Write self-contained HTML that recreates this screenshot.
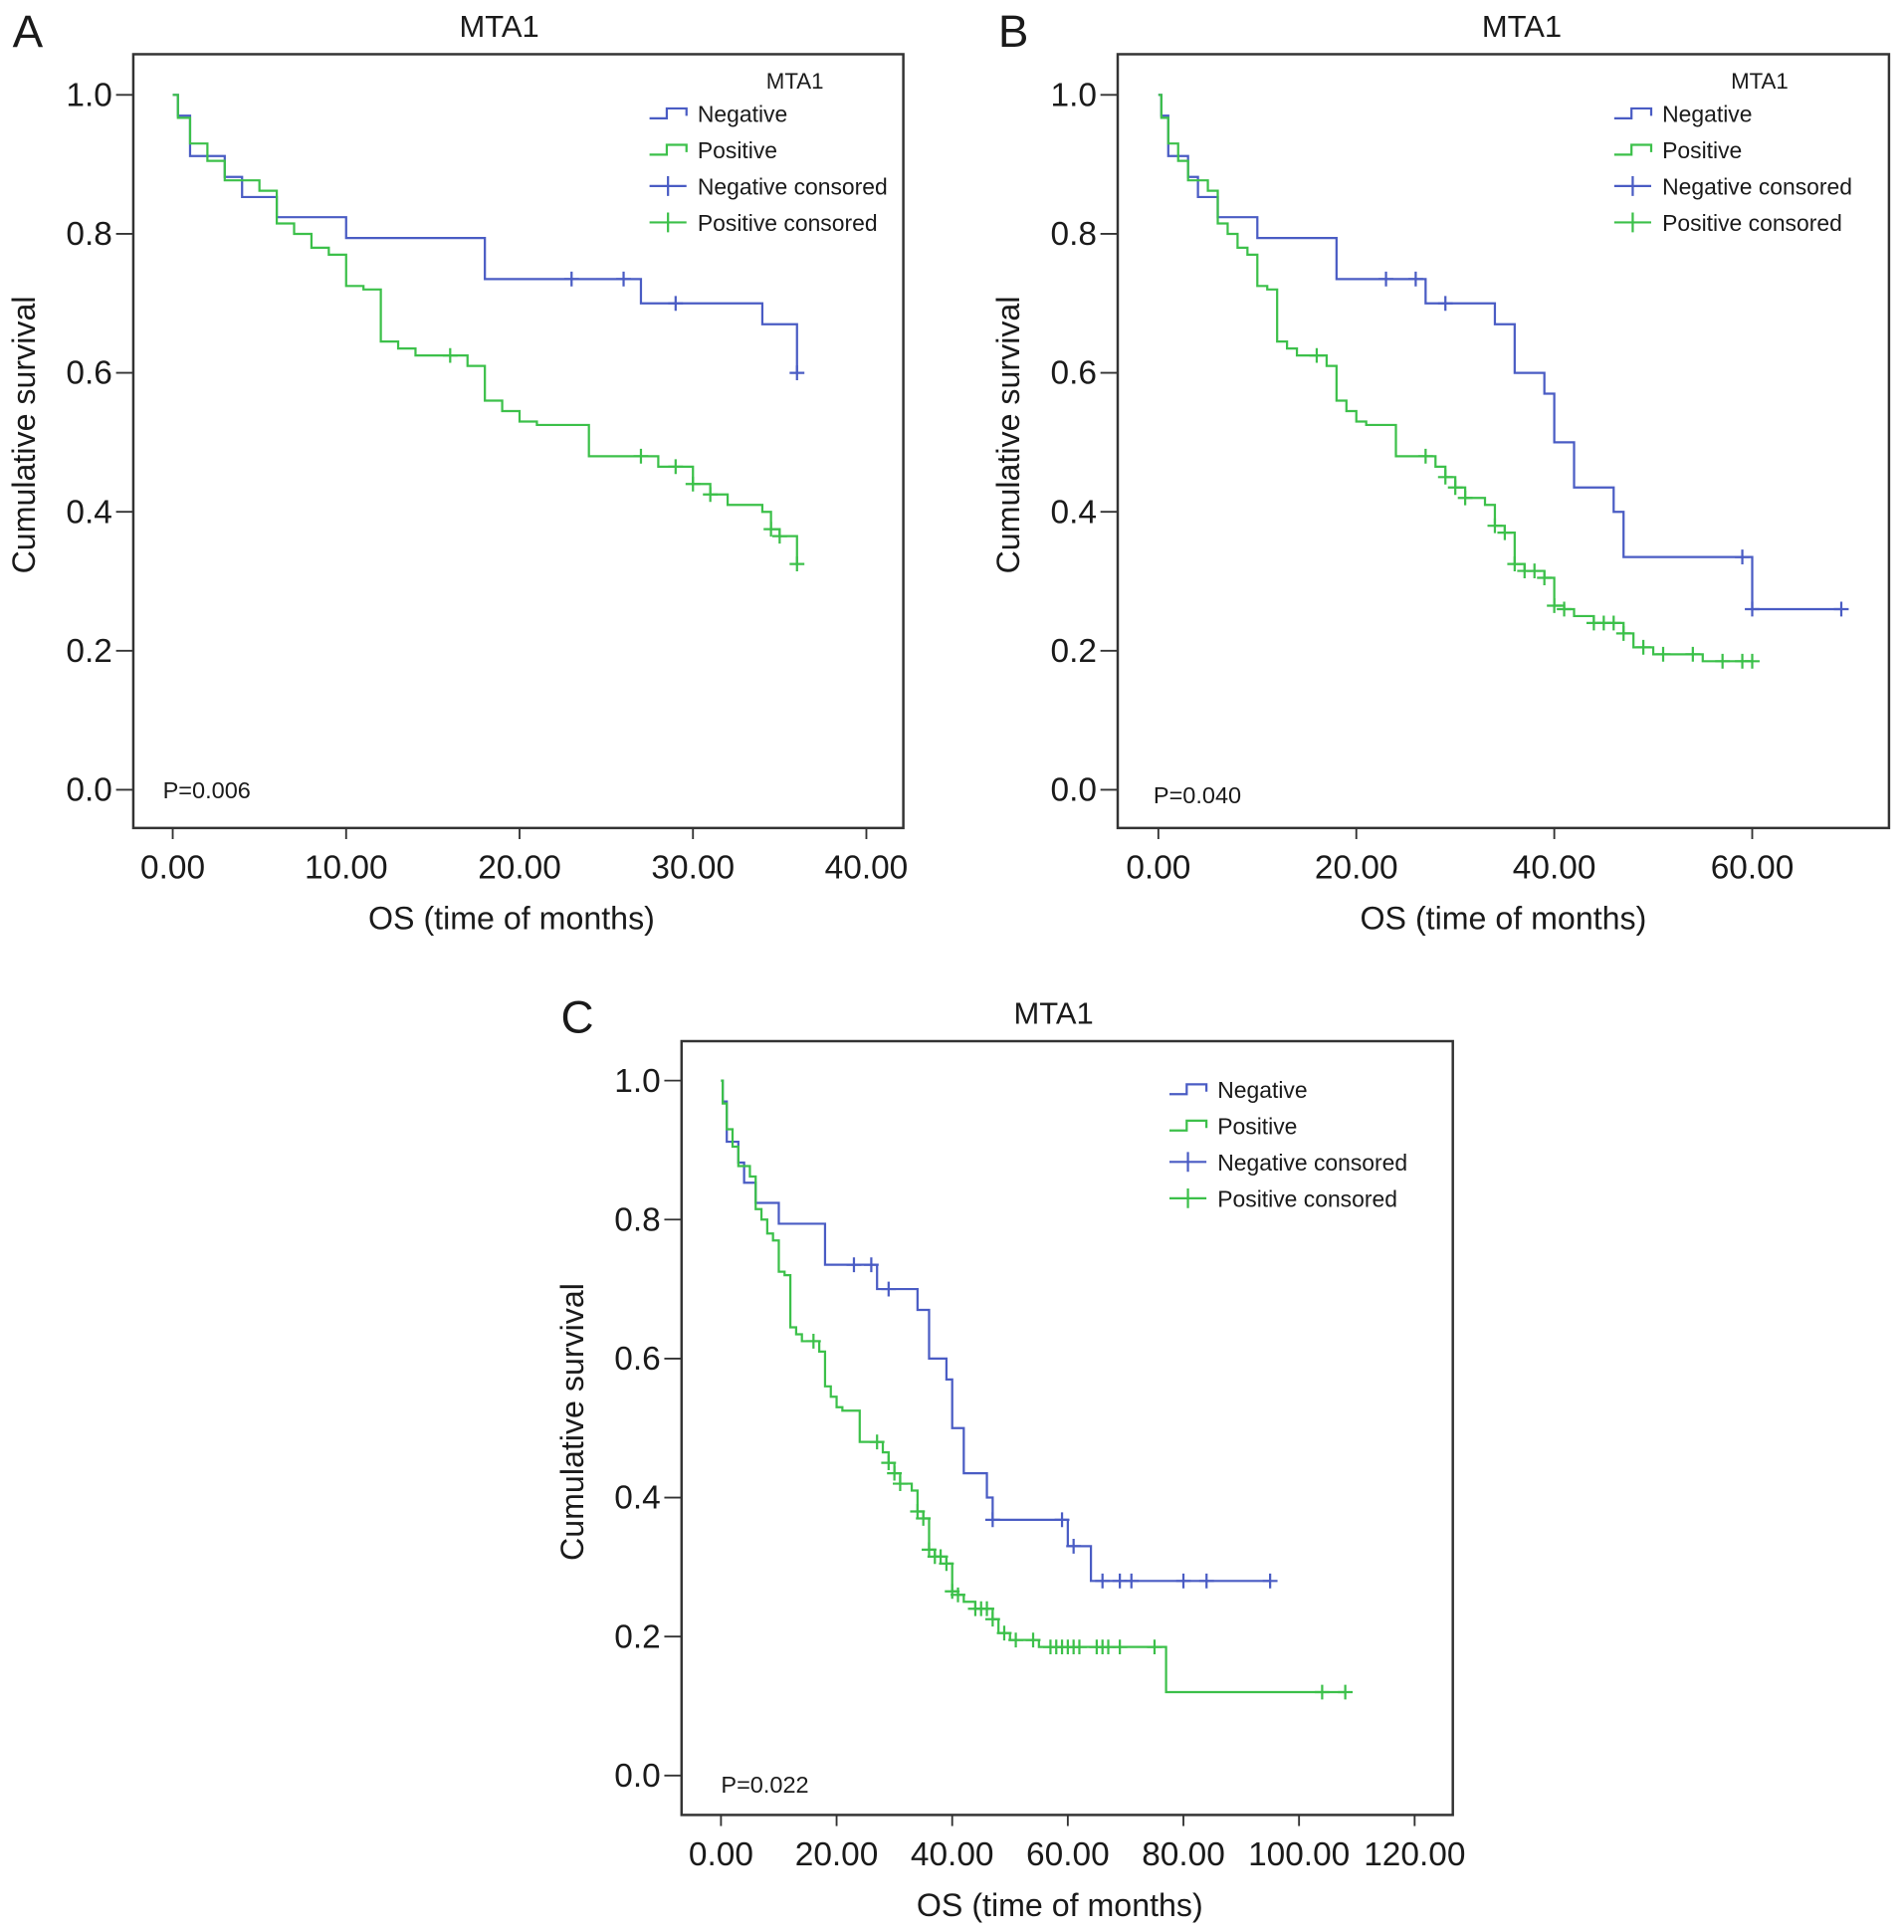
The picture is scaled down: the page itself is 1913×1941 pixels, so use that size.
<!DOCTYPE html>
<html><head><meta charset="utf-8"><style>
html,body{margin:0;padding:0;background:#fff}
svg{display:block}
text{font-family:"Liberation Sans",Arial,sans-serif;fill:#1a1a1a}
</style></head><body>
<svg id="fig" width="1913" height="1941" viewBox="0 0 1545 1568" xmlns="http://www.w3.org/2000/svg"></svg>
<script>
// ---------- Data ----------
const yTicks = [0.0, 0.2, 0.4, 0.6, 0.8, 1.0];
const xTicksA = [0, 10, 20, 30, 40];
const xTicksB = [0, 20, 40, 60];
const xTicksC = [0, 20, 40, 60, 80, 100, 120];
const legendLabels = ["Negative", "Positive", "Negative consored", "Positive consored"];

const negTimesA = [0, 0.3, 1, 3, 4, 6, 10, 18, 27, 34, 36];
const negSurvA  = [1.0, 0.97, 0.912, 0.882, 0.853, 0.824, 0.794, 0.735, 0.70, 0.67, 0.60];
const negCensA  = [23, 26, 29, 36];
const posTimesA = [0, 0.3, 1, 2, 3, 5, 6, 7, 8, 9, 10, 11, 12, 13, 14, 17, 18, 19, 20, 21, 24, 28, 30, 31, 32, 34, 34.5, 35, 36];
const posSurvA  = [1.0, 0.967, 0.93, 0.905, 0.877, 0.862, 0.815, 0.80, 0.78, 0.77, 0.725, 0.72, 0.645, 0.635, 0.625, 0.61, 0.56, 0.545, 0.53, 0.525, 0.48, 0.465, 0.44, 0.425, 0.41, 0.40, 0.375, 0.365, 0.325];
const posCensA  = [16, 27, 29, 30, 31, 34.5, 35, 36];

const negTimesB = [0, 0.3, 1, 3, 4, 6, 10, 18, 27, 34, 36, 39, 40, 42, 46, 47, 60, 69];
const negSurvB  = [1.0, 0.97, 0.912, 0.882, 0.853, 0.824, 0.794, 0.735, 0.70, 0.67, 0.60, 0.57, 0.50, 0.435, 0.40, 0.335, 0.26, 0.26];
const negCensB  = [23, 26, 29, 59, 60, 69];
const posTimesB = [0, 0.3, 1, 2, 3, 5, 6, 7, 8, 9, 10, 11, 12, 13, 14, 17, 18, 19, 20, 21, 24, 28, 29, 30, 31, 33, 34, 35, 36, 37, 39, 40, 41, 42, 44, 47, 48, 50, 55, 60];
const posSurvB  = [1.0, 0.967, 0.93, 0.905, 0.877, 0.862, 0.815, 0.80, 0.78, 0.77, 0.725, 0.72, 0.645, 0.635, 0.625, 0.61, 0.56, 0.545, 0.53, 0.525, 0.48, 0.465, 0.45, 0.435, 0.42, 0.41, 0.38, 0.37, 0.325, 0.315, 0.305, 0.265, 0.26, 0.25, 0.24, 0.225, 0.205, 0.195, 0.185, 0.185];
const posCensB  = [16, 27, 29, 30, 31, 34, 35, 36, 37, 38, 39, 40, 41, 44, 45, 46, 47, 49, 51, 54, 57, 59, 60];

const negTimesC = [0, 0.3, 1, 3, 4, 6, 10, 18, 27, 34, 36, 39, 40, 42, 46, 47, 60, 64, 95];
const negSurvC  = [1.0, 0.97, 0.912, 0.882, 0.853, 0.824, 0.794, 0.735, 0.70, 0.67, 0.60, 0.57, 0.50, 0.435, 0.40, 0.368, 0.33, 0.28, 0.28];
const negCensC  = [23, 26, 29, 47, 59, 61, 66, 69, 71, 80, 84, 95];
const posTimesC = [0, 0.3, 1, 2, 3, 5, 6, 7, 8, 9, 10, 11, 12, 13, 14, 17, 18, 19, 20, 21, 24, 28, 29, 30, 31, 33, 34, 35, 36, 37, 39, 40, 41, 42, 44, 47, 48, 50, 55, 77, 108];
const posSurvC  = [1.0, 0.967, 0.93, 0.905, 0.877, 0.862, 0.815, 0.80, 0.78, 0.77, 0.725, 0.72, 0.645, 0.635, 0.625, 0.61, 0.56, 0.545, 0.53, 0.525, 0.48, 0.465, 0.45, 0.435, 0.42, 0.41, 0.38, 0.37, 0.325, 0.315, 0.305, 0.265, 0.26, 0.25, 0.24, 0.225, 0.205, 0.195, 0.185, 0.12, 0.12];
const posCensC  = [16, 27, 29, 30, 31, 34, 35, 36, 37, 38, 39, 40, 41, 44, 45, 46, 47, 49, 51, 54, 57, 58, 59, 60, 61, 62, 65, 66, 67, 69, 75, 104, 108];

const BLUE = "#4a5cc4", GREEN = "#3cc04a";
const NS = "http://www.w3.org/2000/svg";
const svg = document.getElementById("fig");

function el(tag, attrs, parent, txt) {
  const e = document.createElementNS(NS, tag);
  for (const k in attrs) e.setAttribute(k, attrs[k]);
  if (txt !== undefined) e.textContent = txt;
  (parent || svg).appendChild(e);
  return e;
}
function survAt(times, surv, t) {
  let s = surv[0];
  for (let i = 0; i < times.length; i++) if (times[i] <= t) s = surv[i];
  return s;
}

function panel(cfg) {
  const g = el("g", {});
  
  
  const X = t => cfg.x0 + (t / cfg.xMax) * (cfg.x1 - cfg.x0);
  const Y = v => cfg.y0 + (1 - v) * (cfg.y1 - cfg.y0);
  const box = el("rect", {x: cfg.bx, y: cfg.by, width: cfg.bw, height: cfg.bh, fill: "none", stroke: "#333", "stroke-width": 2}, g);
  
  
  const lab = el("text", {x: cfg.lx, y: cfg.ly, "font-size": 37}, g, cfg.letter);
  
  
  const ttl = el("text", {x: cfg.tx, y: cfg.by - 14, "font-size": 25, "text-anchor": "middle"}, g, "MTA1");
  
  
  yTicks.forEach(v => {
    const tk = el("line", {x1: cfg.bx - 14, x2: cfg.bx, y1: Y(v), y2: Y(v), stroke: "#333", "stroke-width": 1.5}, g);
    
    
    const t = el("text", {x: cfg.bx - 17, y: Y(v) + 9, "font-size": 27, "text-anchor": "end"}, g, v.toFixed(1));
    
    
  });
  cfg.xTicks.forEach(v => {
    const tk = el("line", {x1: X(v), x2: X(v), y1: cfg.by + cfg.bh, y2: cfg.by + cfg.bh + 9, stroke: "#333", "stroke-width": 1.5}, g);
    
    
    const t = el("text", {x: X(v), y: cfg.by + cfg.bh + 41, "font-size": 27, "text-anchor": "middle"}, g, v.toFixed(2));
    
    
  });
  const xt = el("text", {x: cfg.xtx, y: cfg.by + cfg.bh + 82, "font-size": 26, "text-anchor": "middle"}, g, "OS (time of months)");
  
  
  const yx = cfg.bx - 80, yy = cfg.by + cfg.bh / 2 - 5;
  const yt = el("text", {x: yx, y: yy, "font-size": 26, "text-anchor": "middle", transform: `rotate(-90 ${yx} ${yy})`}, g, "Cumulative survival");
  
  
  const pv = el("text", {x: cfg.px, y: cfg.py, "font-size": 19}, g, cfg.p);
  
  

  [[cfg.nt, cfg.ns, cfg.nc, BLUE, "negative"], [cfg.pt, cfg.ps, cfg.pc, GREEN, "positive"]].forEach(([ts, ss, cs, col, nm]) => {
    let d = `M${X(ts[0])},${Y(ss[0])}`;
    for (let i = 1; i < ts.length; i++) d += ` H${X(ts[i])} V${Y(ss[i])}`;
    const p = el("path", {d: d, fill: "none", stroke: col, "stroke-width": 1.8}, g);
    
    
    cs.forEach(t => {
      const cx = X(t), cy = Y(survAt(ts, ss, t));
      const c = el("path", {d: `M${cx},${cy - 6} V${cy + 6} M${cx - 6},${cy} H${cx + 6}`, stroke: col, "stroke-width": 1.8, fill: "none"}, g);
      
      
    });
  });

  if (cfg.legTitle) {
    const lt = el("text", {x: cfg.legX + 118, y: cfg.legY - 20, "font-size": 18, "text-anchor": "middle"}, g, "MTA1");
    
    
  }
  legendLabels.forEach((lbl, i) => {
    const col = i % 2 === 0 ? BLUE : GREEN;
    const y = cfg.legY + i * 29.5;
    const lg = el("g", {}, g);
    
    
    const sx = cfg.legX;
    if (i < 2) el("path", {d: `M${sx},${y + 4} H${sx + 14} V${y - 4} H${sx + 30} V${y + 2}`, stroke: col, "stroke-width": 1.8, fill: "none"}, lg);
    else el("path", {d: `M${sx},${y} H${sx + 30} M${sx + 15},${y - 8} V${y + 8}`, stroke: col, "stroke-width": 1.8, fill: "none"}, lg);
    el("text", {x: sx + 39, y: y + 7, "font-size": 18.5}, lg, lbl);
  });
}

panel({id: "a", letter: "A", lx: 10, ly: 38, tx: 405, xtx: 415, bx: 108, by: 44, bw: 625, bh: 628, x0: 140, x1: 703, xMax: 40, y0: 77, y1: 641,
  xTicks: xTicksA, nt: negTimesA, ns: negSurvA, nc: negCensA, pt: posTimesA, ps: posSurvA, pc: posCensA,
  px: 132, py: 648, p: "P=0.006", legX: 527, legY: 92, legTitle: true});
panel({id: "b", letter: "B", lx: 810, ly: 38, tx: 1235, xtx: 1220, bx: 907, by: 44, bw: 626, bh: 628, x0: 940, x1: 1422, xMax: 60, y0: 77, y1: 641,
  xTicks: xTicksB, nt: negTimesB, ns: negSurvB, nc: negCensB, pt: posTimesB, ps: posSurvB, pc: posCensB,
  px: 936, py: 652, p: "P=0.040", legX: 1310, legY: 92, legTitle: true});
panel({id: "c", letter: "C", lx: 455, ly: 838, tx: 855, xtx: 860, bx: 553, by: 845, bw: 626, bh: 628, x0: 585, x1: 1148, xMax: 120, y0: 877, y1: 1441,
  xTicks: xTicksC, nt: negTimesC, ns: negSurvC, nc: negCensC, pt: posTimesC, ps: posSurvC, pc: posCensC,
  px: 585, py: 1455, p: "P=0.022", legX: 949, legY: 884, legTitle: false});
</script>
</body></html>
